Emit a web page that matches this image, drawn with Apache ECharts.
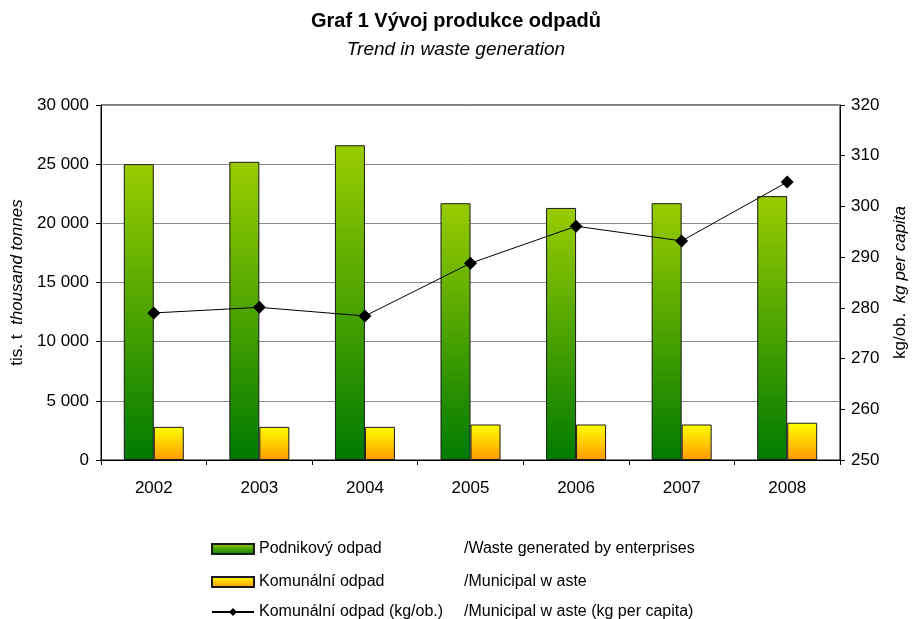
<!DOCTYPE html>
<html>
<head>
<meta charset="utf-8">
<script src="https://cdn.jsdelivr.net/npm/echarts@6/dist/echarts.min.js"></script>
<style>
  html, body { margin: 0; padding: 0; background: #fff; }
  #main { width: 912px; height: 619px; }
</style>
</head>
<body>
<div id="main"></div>
<script>
// data
const years = ['2002', '2003', '2004', '2005', '2006', '2007', '2008']
const enterpriseWaste = [25000, 25200, 26600, 21700, 21300, 21700, 22300]
const municipalWaste = [2800, 2800, 2800, 3000, 3000, 3000, 3150]
const municipalPerCapita = [279.0, 280.1, 278.4, 288.8, 296.1, 293.2, 304.8]

const seriesNames = ['Podnikový odpad', 'Komunální odpad', 'Komunální odpad (kg/ob.)']
const seriesNamesEn = ['/Waste generated by enterprises', '/Municipal w aste', '/Municipal w aste (kg per capita)']

const font = 'Liberation Sans, Arial, sans-serif'

let chart = echarts.init(document.getElementById('main'))

const greenFill = new echarts.graphic.LinearGradient(0, 0, 0, 1, [
  { offset: 0, color: '#99cc00' },
  { offset: 1, color: '#007a00' }
])
const yellowFill = new echarts.graphic.LinearGradient(0, 0, 0, 1, [
  { offset: 0, color: '#ffff00' },
  { offset: 1, color: '#ff9900' }
])

// one legend block per row so the two-column text lines up like the original
const legendRows = [536, 569, 599]
let legends = seriesNames.map((name, i) => ({
  orient: 'horizontal',
  left: 206,
  top: legendRows[i],
  itemWidth: 42,
  itemHeight: 10,
  icon: i < 2 ? 'rect' : undefined,
  data: [name],
  formatter: function (n) {
    return '{cz|' + n + '}{en|' + seriesNamesEn[seriesNames.indexOf(n)] + '}'
  },
  textStyle: {
    fontFamily: font,
    fontSize: 16,
    color: '#000',
    rich: {
      cz: { width: 205, fontSize: 16, fontFamily: font, color: '#000', lineHeight: 20 },
      en: { fontSize: 16, fontFamily: font, color: '#000', lineHeight: 20 }
    }
  }
}))

let option = {
  backgroundColor: '#fff',
  textStyle: { fontFamily: font, color: '#000' },
  title: {
    text: 'Graf 1 Vývoj produkce odpadů',
    subtext: 'Trend in waste generation',
    left: 'center',
    top: 6,
    itemGap: 9,
    textStyle: { fontFamily: font, fontSize: 20, fontWeight: 'bold', color: '#000' },
    subtextStyle: { fontFamily: font, fontSize: 19, fontStyle: 'italic', color: '#000' }
  },
  legend: legends,
  grid: {
    left: 101,
    right: 72,
    top: 105,
    bottom: 159,
    outerBoundsMode: 'none',
    containLabel: false,
    show: true,
    borderColor: '#000',
    borderWidth: 1
  },
  xAxis: {
    type: 'category',
    data: years,
    axisLine: { lineStyle: { color: '#000', width: 1 } },
    axisTick: { show: true, length: 5, lineStyle: { color: '#000' } },
    axisLabel: { fontSize: 17, color: '#000', margin: 20, fontFamily: font }
  },
  yAxis: [{
    type: 'value',
    min: 0,
    max: 30000,
    interval: 5000,
    name: '{a|tis. t  }{b|thousand tonnes}',
    nameLocation: 'middle',
    nameRotate: 90,
    nameGap: 75,
    nameTextStyle: {
      rich: {
        a: { fontSize: 17, fontFamily: font, color: '#000' },
        b: { fontSize: 17, fontFamily: font, fontStyle: 'italic', color: '#000' }
      }
    },
    axisLine: { show: true, lineStyle: { color: '#000' } },
    axisTick: { show: true, length: 5, lineStyle: { color: '#000' } },
    axisLabel: {
      fontSize: 17,
      color: '#000',
      margin: 12,
      fontFamily: font,
      formatter: function (v) {
        return v >= 1000 ? Math.floor(v / 1000) + ' ' + String(v % 1000).padStart(3, '0') : String(v)
      }
    },
    splitLine: { show: true, lineStyle: { color: '#8c8c8c', width: 1 } }
  }, {
    type: 'value',
    min: 250,
    max: 320,
    interval: 10,
    position: 'right',
    name: '{a|kg/ob.  }{b|kg per capita}',
    nameLocation: 'middle',
    nameRotate: 90,
    nameGap: 52,
    nameTextStyle: {
      rich: {
        a: { fontSize: 17, fontFamily: font, color: '#000' },
        b: { fontSize: 17, fontFamily: font, fontStyle: 'italic', color: '#000' }
      }
    },
    axisLine: { show: true, lineStyle: { color: '#000' } },
    axisTick: { show: true, length: 5, lineStyle: { color: '#000' } },
    axisLabel: { fontSize: 17, color: '#000', margin: 11, fontFamily: font },
    splitLine: { show: false }
  }],
  series: [{
    name: seriesNames[0],
    type: 'bar',
    data: enterpriseWaste,
    barWidth: 30,
    barGap: '0%',
    itemStyle: { color: greenFill, borderColor: '#1a1a1a', borderWidth: 1 }
  }, {
    name: seriesNames[1],
    type: 'bar',
    data: municipalWaste,
    barWidth: 30,
    barGap: '0%',
    itemStyle: { color: yellowFill, borderColor: '#1a1a1a', borderWidth: 1 }
  }, {
    name: seriesNames[2],
    type: 'line',
    yAxisIndex: 1,
    data: municipalPerCapita,
    symbol: 'diamond',
    symbolSize: 13,
    lineStyle: { color: '#000', width: 1 },
    itemStyle: { color: '#000' },
    z: 5
  }]
}

chart.setOption(option)
</script>
</body>
</html>
